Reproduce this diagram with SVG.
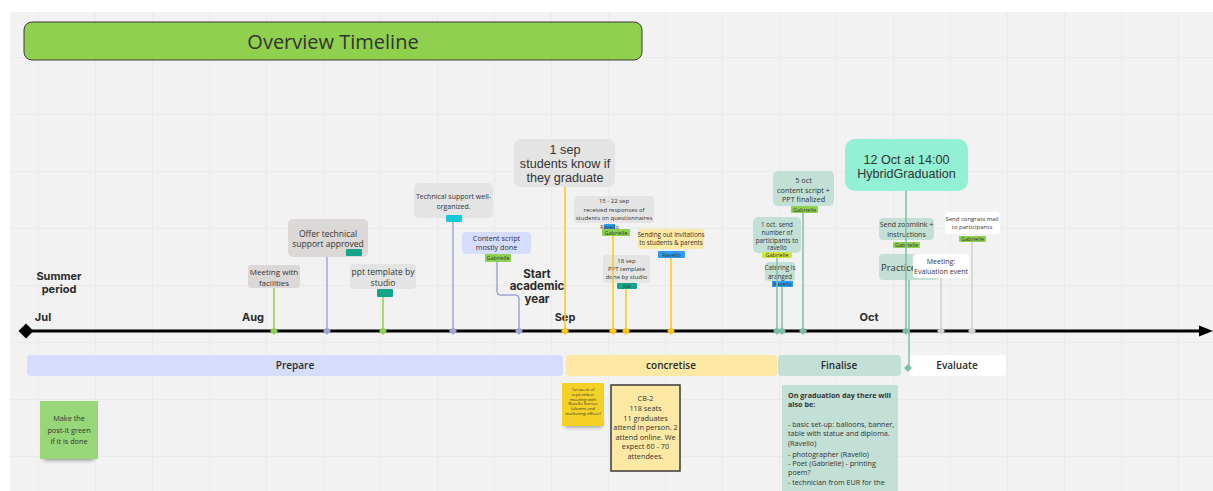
<svg xmlns="http://www.w3.org/2000/svg" width="1213" height="491" viewBox="0 0 1213 491">
<defs>
<pattern id="grid" x="38" y="0" width="57" height="57" patternUnits="userSpaceOnUse">
<path d="M0,0 V57 M0,0 H57" fill="none" stroke="#e2e2e2" stroke-width="1"/>
</pattern>
<path id="dm" d="M0,-4 L4,0 L0,4 L-4,0Z"/>
<filter id="sh" x="-30%" y="-30%" width="160%" height="180%">
<feGaussianBlur stdDeviation="2"/>
</filter>
<style>
.t{font-family:"Open Sans","Liberation Sans",sans-serif;fill:#333;text-anchor:middle}
.big{font-family:"Liberation Sans",Arial,sans-serif;fill:#333;text-anchor:middle;font-size:12.6px}
.b{font-family:Inter,"Liberation Sans",sans-serif;font-weight:700;fill:#2b2b2b;text-anchor:middle}
.p{font-family:"Open Sans","Liberation Sans",sans-serif;font-weight:600;fill:#2b2b2b;text-anchor:middle;font-size:10px}
.gray{fill:#e4e4e4}
.pk{fill:#ddd8d8}
.lav{fill:#d6dcfb}
.yel{fill:#fde9a3}
.tea{fill:#c3e0d6}
.tg{font-family:"Open Sans","Liberation Sans",sans-serif;font-size:5.5px;fill:#333;text-anchor:middle}
.st{fill:none;stroke-width:1.5}
</style>
</defs>
<rect x="0" y="0" width="1213" height="491" fill="#ffffff"/>
<rect x="10" y="12" width="1203" height="479" fill="#f2f2f2"/>
<rect x="10" y="12" width="1203" height="479" fill="url(#grid)"/>

<g id="title">
<rect x="24" y="22" width="618" height="38" rx="8" fill="#8fd14f" stroke="#3a3a3a" stroke-width="1"/>
<text class="t" x="333" y="49" font-size="20">Overview Timeline</text>
</g>

<g id="labels">
<text class="b" x="59" y="280" font-size="11">Summer</text>
<text class="b" x="59" y="293" font-size="11">period</text>
<text class="b" x="43" y="321" font-size="11">Jul</text>
<text class="b" x="253" y="321" font-size="11">Aug</text>
<text class="b" x="565" y="321" font-size="11">Sep</text>
<text class="b" x="869" y="321" font-size="11">Oct</text>
<text class="b" x="537" y="278" font-size="11.5">Start</text>
<text class="b" x="537" y="290" font-size="11.5">academic</text>
<text class="b" x="537" y="303" font-size="11.5">year</text>
</g>

<g id="phases">
<rect x="27" y="355" width="536" height="21" rx="4" fill="#d6dcfb"/>
<text class="p" x="295" y="369">Prepare</text>
<rect x="566" y="355" width="211" height="21" rx="4" fill="#fde9a3"/>
<text class="p" x="671" y="369">concretise</text>
<rect x="778" y="355" width="123" height="21" rx="4" fill="#c3e0d6"/>
<text class="p" x="839" y="369">Finalise</text>
<rect x="909" y="355" width="97" height="21" rx="4" fill="#ffffff"/>
<text class="p" x="957" y="369">Evaluate</text>
</g>

<g id="n-meeting-facilities">
<rect class="pk" x="248" y="265" width="52" height="23" rx="3"/>
<text class="t" x="274" y="275" font-size="8">Meeting with</text>
<text class="t" x="274" y="286" font-size="8">facilities</text>
</g>
<g id="n-offer">
<rect class="pk" x="288" y="219" width="80" height="38" rx="5"/>
<text class="t" x="328" y="236.5" font-size="8.5">Offer technical</text>
<text class="t" x="328" y="247" font-size="8.5">support approved</text>
<rect x="346" y="249" width="16" height="7" rx="1" fill="#12a58a"/>
</g>
<g id="n-ppt">
<rect class="gray" x="350" y="264" width="66" height="25" rx="4"/>
<text class="t" x="383" y="275" font-size="8.5">ppt template by</text>
<text class="t" x="383" y="286" font-size="8.5">studio</text>
<rect x="377" y="289" width="16" height="8" rx="1" fill="#12a58a"/>
</g>
<g id="n-technical">
<rect class="gray" x="414" y="183" width="79" height="35" rx="5"/>
<text class="t" x="453.5" y="198.5" font-size="7">Technical support well-</text>
<text class="t" x="453.5" y="208.5" font-size="7">organized.</text>
<rect x="446" y="215" width="16" height="7" rx="1" fill="#15cbd3"/>
</g>
<g id="n-content">
<rect class="lav" x="462" y="232" width="69" height="22" rx="4"/>
<text class="t" x="496.5" y="240.5" font-size="7.2">Content script</text>
<text class="t" x="496.5" y="249.5" font-size="7.2">mostly done</text>
<rect x="485" y="254" width="26" height="8" rx="1" fill="#8fd14f"/>
<text class="tg" x="498" y="260">Gabrielle</text>
</g>
<g id="n-1sep">
<rect class="gray" x="514" y="139" width="101" height="48" rx="7"/>
<text class="big" x="565" y="154">1 sep</text>
<text class="big" x="565" y="168">students know if</text>
<text class="big" x="565" y="182">they graduate</text>
</g>
<g id="n-1522sep">
<rect class="gray" x="574" y="196" width="80" height="27" rx="4"/>
<text class="t" x="614" y="203" font-size="6">15 - 22 sep</text>
<text class="t" x="614" y="212" font-size="6">received responses of</text>
<text class="t" x="614" y="220" font-size="6">students on questionnaires</text>
<rect x="604" y="224" width="11" height="5" fill="#2d9bf0"/>
<text class="tg" x="609.5" y="228.5" font-size="4.5">Ravello</text>
<rect x="602" y="229" width="28" height="7" rx="1" fill="#8fd14f"/>
<text class="tg" x="616" y="234.5">Gabrielle</text>
</g>
<g id="n-18sep">
<rect class="gray" x="603" y="255" width="47" height="28" rx="4"/>
<text class="t" x="626.5" y="263" font-size="6">18 sep</text>
<text class="t" x="626.5" y="271" font-size="6">PPT template</text>
<text class="t" x="626.5" y="279" font-size="6">done by studio</text>
<rect x="617" y="283" width="20" height="6" rx="1" fill="#12a58a"/>
<text class="tg" x="627" y="288">Juo</text>
</g>
<g id="n-invitations">
<rect class="yel" x="638" y="229" width="66" height="20" rx="4"/>
<text class="t" x="671" y="237" font-size="6.3">Sending out invitations</text>
<text class="t" x="671" y="245" font-size="6.3">to students &amp; parents</text>
<rect x="658" y="251" width="27" height="7" rx="1" fill="#2d9bf0"/>
<text class="tg" x="671.5" y="257">Ravello</text>
</g>
<g id="n-1oct">
<rect class="tea" x="753" y="217" width="48" height="36" rx="5"/>
<text class="t" x="777" y="226.5" font-size="6.3">1 oct. send</text>
<text class="t" x="777" y="234.5" font-size="6.3">number of</text>
<text class="t" x="777" y="242.5" font-size="6.3">participants to</text>
<text class="t" x="777" y="249.5" font-size="6.3">ravello</text>
<rect x="762" y="252" width="30" height="6" rx="1" fill="#cee741"/>
<text class="tg" x="777" y="257">Gabrielle</text>
</g>
<g id="n-catering">
<rect class="tea" x="765" y="262" width="30" height="19" rx="4"/>
<text class="t" x="780" y="269.5" font-size="6.3">Catering is</text>
<text class="t" x="780" y="278.5" font-size="6.3">aranged</text>
<rect x="772" y="281" width="21" height="6" fill="#2d9bf0"/>
<text class="tg" x="782.5" y="286">Ravello</text>
</g>
<g id="n-5oct">
<rect class="tea" x="773" y="171" width="61" height="35" rx="5"/>
<text class="t" x="803.5" y="182.5" font-size="7.3">5 oct</text>
<text class="t" x="803.5" y="192.5" font-size="7.3">content script  +</text>
<text class="t" x="803.5" y="201.5" font-size="7.3">PPT finalized</text>
<rect x="791" y="206" width="27" height="7" rx="1" fill="#8fd14f"/>
<text class="tg" x="804.5" y="211.5">Gabrielle</text>
</g>
<g id="n-12oct">
<rect x="845" y="139" width="123" height="52" rx="10" fill="#92f0d4"/>
<text class="big" x="906.5" y="163.5">12 Oct at 14:00</text>
<text class="big" x="906.5" y="177.5">HybridGraduation</text>
</g>
<g id="n-zoomlink">
<rect class="tea" x="879" y="218" width="55" height="22" rx="4"/>
<text class="t" x="906.5" y="226.5" font-size="7">Send zoomlink +</text>
<text class="t" x="906.5" y="236.5" font-size="7">instructions</text>
<rect x="893" y="242" width="27" height="6" rx="1" fill="#8fd14f"/>
<text class="tg" x="906.5" y="247">Gabrielle</text>
</g>
<g id="n-practice">
<rect class="tea" x="879" y="254" width="60" height="26" rx="4"/>
<text class="t" x="881" y="271" font-size="9.5" style="text-anchor:start">Practice</text>
</g>
<g id="n-eval-meeting">
<rect x="913" y="254" width="56" height="24" rx="4" fill="#ffffff"/>
<text class="t" x="941" y="263.5" font-size="7">Meeting:</text>
<text class="t" x="941" y="273.5" font-size="7">Evaluation event</text>
</g>
<g id="n-congrats">
<rect x="945" y="212" width="55" height="22" rx="4" fill="#ffffff"/>
<text class="t" x="972" y="221" font-size="6">Send congrats mail</text>
<text class="t" x="972" y="229" font-size="6">to participants</text>
<rect x="959" y="236" width="27" height="6" rx="1" fill="#8fd14f"/>
<text class="tg" x="972.5" y="241">Gabrielle</text>
</g>

<g id="connectors">
<line x1="26" y1="331" x2="1202" y2="331" stroke="#000" stroke-width="3"/>
<polygon points="1199,325.5 1213,331 1199,336.5" fill="#000"/>
<path d="M26,323.5 L33.5,331 L26,338.5 L18.5,331Z" fill="#000"/>
<g class="st">
<line x1="274" y1="288" x2="274" y2="331" stroke="#8fd14f"/>
<line x1="327" y1="257" x2="327" y2="331" stroke="#9ea6d8"/>
<line x1="383" y1="297" x2="383" y2="331" stroke="#8fd14f"/>
<line x1="453" y1="222" x2="453" y2="331" stroke="#9ea6d8"/>
<path d="M497,262 V291 Q497,295 501,295 H515 Q519,295 519,299 V331" stroke="#9ea6d8"/>
<line x1="565" y1="187" x2="565" y2="331" stroke="#fac710"/>
<line x1="613" y1="236" x2="613" y2="331" stroke="#fac710"/>
<line x1="626" y1="289" x2="626" y2="331" stroke="#fac710"/>
<line x1="671" y1="258" x2="671" y2="331" stroke="#fac710"/>
<line x1="777" y1="258" x2="777" y2="331" stroke="#7cbfa6"/>
<line x1="782" y1="287" x2="782" y2="331" stroke="#7cbfa6"/>
<line x1="803" y1="213" x2="803" y2="331" stroke="#7cbfa6"/>
<line x1="906" y1="191" x2="906" y2="331" stroke="#7cbfa6"/>
<line x1="909" y1="280" x2="909" y2="368" stroke="#7cbfa6"/>
<line x1="941" y1="278" x2="941" y2="331" stroke="#d5d0d0"/>
<line x1="972" y1="242" x2="972" y2="331" stroke="#d5d0d0"/>
</g>
<use href="#dm" x="274" y="331" fill="#8fd14f"/>
<use href="#dm" x="327" y="331" fill="#9ea6d8"/>
<use href="#dm" x="383" y="331" fill="#8fd14f"/>
<use href="#dm" x="453" y="331" fill="#9ea6d8"/>
<use href="#dm" x="519" y="331" fill="#9ea6d8"/>
<use href="#dm" x="565" y="331" fill="#fac710"/>
<use href="#dm" x="613" y="331" fill="#fac710"/>
<use href="#dm" x="626" y="331" fill="#fac710"/>
<use href="#dm" x="671" y="331" fill="#fac710"/>
<use href="#dm" x="777" y="331" fill="#7cbfa6"/>
<use href="#dm" x="782" y="331" fill="#7cbfa6"/>
<use href="#dm" x="803" y="331" fill="#7cbfa6"/>
<use href="#dm" x="906" y="331" fill="#7cbfa6"/>
<use href="#dm" x="908" y="368" fill="#7cbfa6"/>
<use href="#dm" x="941" y="331" fill="#d5d0d0"/>
<use href="#dm" x="972" y="331" fill="#d5d0d0"/>
</g>

<g id="n-sticky-green">
<rect x="44" y="452" width="50" height="8" fill="#000" opacity="0.45" filter="url(#sh)"/>
<rect x="40" y="401" width="58" height="58" fill="#98d67a"/>
<text class="t" x="69" y="421" font-size="7.3">Make the</text>
<text class="t" x="69" y="433" font-size="7.3">post-it green</text>
<text class="t" x="69" y="444" font-size="7.3">if it is done</text>
</g>
<g id="n-sticky-yellow">
<rect x="565" y="420" width="37" height="7" fill="#000" opacity="0.4" filter="url(#sh)"/>
<rect x="562" y="383" width="42" height="43" fill="#f5d128"/>
<g class="t" font-size="4.3">
<text x="583" y="391">1st week of</text>
<text x="583" y="396">september:</text>
<text x="583" y="400.5">meeting with</text>
<text x="583" y="405">Ravello Sarries</text>
<text x="583" y="410">(alumni and</text>
<text x="583" y="415">marketing officer)</text>
</g>
</g>
<g id="n-cb2">
<rect x="611" y="385" width="69" height="86" fill="#fde9a3" stroke="#3a3a3a" stroke-width="1.5"/>
<g class="t" font-size="7.3">
<text x="645.5" y="401">CB-2</text>
<text x="645.5" y="411">118 seats</text>
<text x="645.5" y="420.5">11 graduates</text>
<text x="645.5" y="430">attend in person. 2</text>
<text x="645.5" y="439.5">attend online. We</text>
<text x="645.5" y="449">expect 60 - 70</text>
<text x="645.5" y="459">attendees.</text>
</g>
</g>
<g id="n-graduation-day">
<rect x="782" y="385" width="116" height="110" fill="#c3e0d6"/>
<g class="t" font-size="7.2" style="text-anchor:start">
<text x="788" y="397.5" font-weight="700">On graduation day there will</text>
<text x="788" y="407" font-weight="700">also be:</text>
<text x="788" y="426.5">- basic set-up: balloons, banner,</text>
<text x="788" y="436">table with statue and diploma.</text>
<text x="788" y="445.5">(Ravello)</text>
<text x="788" y="456.5">- photographer (Ravello)</text>
<text x="788" y="466">- Poet (Gabrielle) - printing</text>
<text x="788" y="475">poem?</text>
<text x="788" y="485">- technician from EUR for the</text>
</g>
</g>
</svg>
